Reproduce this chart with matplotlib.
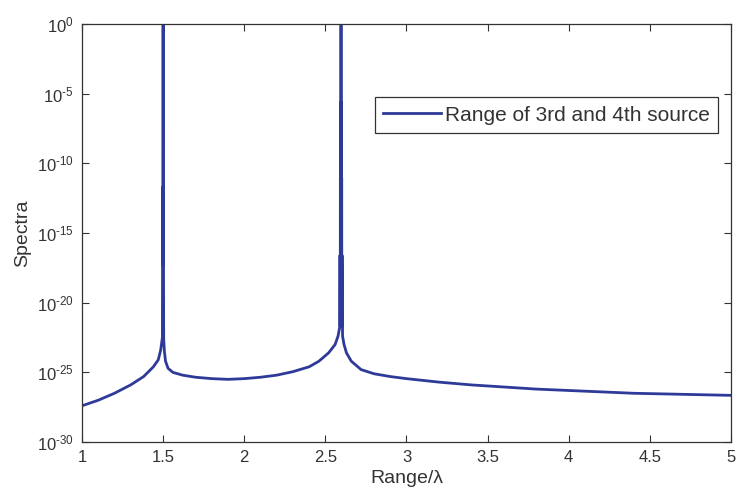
import numpy as np
import matplotlib.pyplot as plt
from matplotlib.ticker import FixedLocator, FuncFormatter, NullLocator

plt.rcParams['font.family'] = ['Liberation Sans', 'DejaVu Sans']
plt.rcParams['mathtext.fontset'] = 'custom'
plt.rcParams['mathtext.rm'] = 'Liberation Sans'
plt.rcParams['mathtext.it'] = 'Liberation Sans'

# range / lambda and log10 of the spectrum
rng = [1.00, 1.10, 1.20, 1.30, 1.38, 1.44, 1.47, 1.485, 1.492,
       1.4955, 1.4965, 1.4975, 1.4985, 1.4995, 1.5000, 1.5005, 1.5015,
       1.5025, 1.5035, 1.5045, 1.508, 1.515, 1.53, 1.56, 1.62, 1.70,
       1.80, 1.90, 2.00, 2.10, 2.20, 2.30, 2.40, 2.46, 2.52, 2.56,
       2.578, 2.586, 2.5895, 2.5905, 2.5915, 2.5925, 2.5935, 2.5945,
       2.5955, 2.5965, 2.5975, 2.5985, 2.5995, 2.6005, 2.6015, 2.6025,
       2.606, 2.615, 2.63, 2.66, 2.72, 2.80, 2.90, 3.00, 3.20, 3.40,
       3.60, 3.80, 4.00, 4.20, 4.40, 4.60, 4.80, 5.00]
log_spec = [-27.4, -27.0, -26.5, -25.9, -25.3, -24.6, -24.1, -23.4, -22.8,
            -22.5, -17.3, -11.7, -17.3, -11.7, 0.0, -17.3, -11.7,
            -17.3, -22.5, -22.8, -23.5, -24.2, -24.7, -25.0, -25.2, -25.35,
            -25.45, -25.5, -25.45, -25.35, -25.2, -24.95, -24.6, -24.2, -23.6, -23.0,
            -22.4, -21.9, -21.7, -16.6, -21.7, -11.0, -21.7, -5.6,
            -21.7, 0.0, -21.7, -5.6, -21.7, -11.0, -21.7, -16.6,
            -22.4, -23.0, -23.6, -24.2, -24.8, -25.1, -25.3, -25.45, -25.7, -25.9,
            -26.05, -26.2, -26.3, -26.4, -26.5, -26.55, -26.6, -26.65]

x_ticks = [1, 1.5, 2, 2.5, 3, 3.5, 4, 4.5, 5]
y_ticks = [1e-30, 1e-25, 1e-20, 1e-15, 1e-10, 1e-5, 1e0]

fig = plt.figure(figsize=(7.36, 4.95), dpi=100)
ax = fig.add_axes([0.1114, 0.107, 0.8818, 0.8444])

ax.semilogy(rng, 10.0 ** np.array(log_spec), color='#2E3A98', lw=2.0,
            label='Range of 3rd and 4th source')

ax.set_xlim(1, 5)
ax.set_ylim(1e-30, 1e0)
ax.xaxis.set_major_locator(FixedLocator(x_ticks))
ax.xaxis.set_major_formatter(FuncFormatter(lambda v, p: '%g' % v))
ax.yaxis.set_major_locator(FixedLocator(y_ticks))
ax.yaxis.set_minor_locator(NullLocator())
ax.yaxis.set_major_formatter(
    FuncFormatter(lambda v, p: r'$10^{\text{%d}}$' % round(np.log10(v))))

ax.tick_params(direction='in', top=True, right=True, length=5,
               labelsize=12, colors='#333333', pad=6)
for s in ax.spines.values():
    s.set_color('#333333')
    s.set_linewidth(0.9)

ax.set_xlabel('Range/λ', fontsize=14, color='#333333', labelpad=3)
ax.set_ylabel('Spectra', fontsize=14, color='#333333', labelpad=4)

leg = ax.legend(loc='upper right', bbox_to_anchor=(0.98, 0.825),
                fontsize=15, fancybox=False, framealpha=1,
                handlelength=2.75, borderaxespad=0, handletextpad=0.2,
                borderpad=0.4)
leg.get_frame().set_edgecolor('#333333')
leg.get_frame().set_linewidth(0.9)
for t in leg.get_texts():
    t.set_color('#333333')

fig.savefig('out.png', dpi=100)
